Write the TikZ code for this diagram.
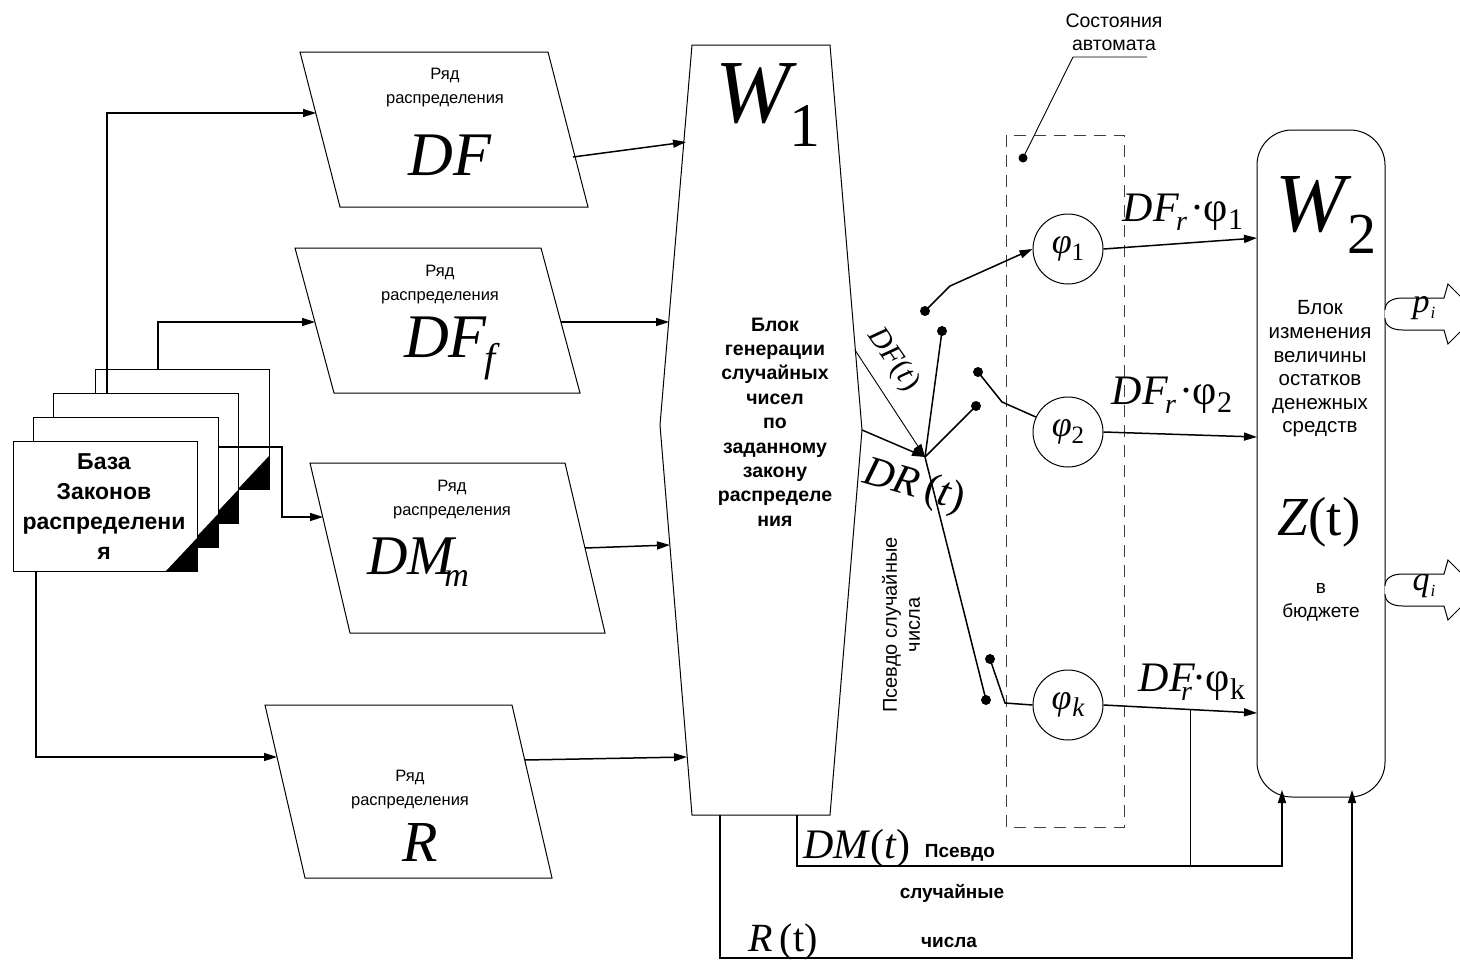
\documentclass[tikz,border=0pt]{standalone}
\usepackage{fontspec}
\setmainfont{Liberation Sans}
\newfontfamily\tms{Liberation Serif}
\usetikzlibrary{arrows.meta}
\newcommand{\fsz}[2]{\fontsize{#1}{#2}\selectfont}
\begin{document}
\begin{tikzpicture}[x=1pt,y=-1pt,
  shp/.style={line width=1pt, fill=white},
  con/.style={line width=1.5pt},
  thn/.style={line width=0.9pt},
  arr/.style={line width=1.5pt,-{Triangle[length=13pt,width=8pt]}},
  tarr/.style={line width=0.9pt,-{Triangle[length=13pt,width=8pt]}},
  dot/.style={circle, fill=black, inner sep=0pt, minimum size=10pt},
  circ/.style={circle, draw, line width=1pt, minimum size=70pt, inner sep=0pt},
  lbl/.style={font=\fsz{16.5}{24}, align=center, inner sep=0pt},
  bold/.style={font=\bfseries\fsz{19.5}{24.4}, align=center, inner sep=0pt},
  bigm/.style={font=\tms\itshape\fsz{62}{62}, inner sep=0pt},
  midm/.style={font=\tms\itshape\fsz{40}{40}, inner sep=0pt}]
\useasboundingbox (0,0) rectangle (1460,969);

% ---------- stacked documents ----------
\foreach \xa/\ya/\xb/\yb/\nm in {95/369/269/489/d4, 53/393/238/523/d3, 33/417/218/547/d2, 13/441/197/571/d1}{
  \draw[shp] (\xa,\ya) rectangle (\xb,\yb);
  \fill (\xb-31,\yb) -- (\xb,\yb) -- (\xb,\yb-33) -- cycle;
  \coordinate (\nm) at (\xa,\ya);
}
\node[font=\bfseries\fsz{23}{30}, align=center, inner sep=0pt] (base) at (104,507) {База\\Законов\\распределени\\я};
\coordinate (d3top) at (107,393);
\coordinate (d4top) at (158,369);
\coordinate (d2rt) at (218,447);
\coordinate (d1bot) at (36,571);

% ---------- parallelograms ----------
\draw[shp] (300,52) -- (548,52) -- (588,207) -- (340,207) -- cycle;
\node[lbl] (dfT) at (445,88) {Ряд\\распределения};
\node[bigm] (dfM) at (450,155) {DF};
\coordinate (dfIn) at (316,113);
\coordinate (dfOut) at (573,157);

\draw[shp] (295,248) -- (541,248) -- (580,393) -- (334,393) -- cycle;
\node[lbl] (dffT) at (440,285) {Ряд\\распределения};
\node[bigm] (dffM) at (450,348) {DF\kern-2pt\raisebox{-14pt}{\fsz{40}{40}f}};
\coordinate (dffIn) at (315,322);
\coordinate (dffOut) at (561,322);

\draw[shp] (310,463) -- (565,463) -- (605,633) -- (350,633) -- cycle;
\node[lbl] (dmT) at (452,500) {Ряд\\распределения};
\node[bigm, font=\tms\itshape\fsz{56}{56}] (dmM) at (418,562) {DM\kern-10pt\raisebox{-12pt}{\fsz{34}{34}m}};
\coordinate (dmIn) at (323,517);
\coordinate (dmOut) at (585,548);

\draw[shp] (265,705) -- (512,705) -- (552,878) -- (305,878) -- cycle;
\node[lbl] (rT) at (410,790) {Ряд\\распределения};
\node[bigm, font=\tms\itshape\fsz{58}{58}] (rM) at (420,843) {R};
\coordinate (rIn) at (277,757);
\coordinate (rOut) at (525,760);

% ---------- W1 block ----------
\draw[shp] (692,45) -- (830,45) -- (862,430) -- (830,815) -- (692,815) -- (660,425) -- cycle;
\node[inner sep=0pt] (w1lab) at (768,105) {\tms\itshape\fsz{90}{90}W\kern0pt\raisebox{-24pt}{\upshape\fsz{62}{62}1}};
\node[bold] (w1txt) at (775,422) {Блок\\генерации\\случайных\\чисел\\по\\заданному\\закону\\распределе\\ния};
\coordinate (w1a) at (686,142);
\coordinate (w1b) at (669,322);
\coordinate (w1c) at (670,545);
\coordinate (w1d) at (687,757);
\coordinate (w1e) at (855,350);
\coordinate (w1v) at (862,430);
\coordinate (w1b1) at (720,815);
\coordinate (w1b2) at (797,815);

% ---------- W2 block ----------
\draw[shp, rounded corners=35pt] (1257,130) rectangle (1385,797);
\node[inner sep=0pt] (w2lab) at (1326,215) {\tms\itshape\fsz{84}{84}W\kern2pt\raisebox{-22pt}{\upshape\fsz{58}{58}2}};
\node[lbl, font=\fsz{20.5}{23.6}] (w2txt) at (1320,369) {Блок\\изменения\\величины\\остатков\\денежных\\средств};
\node[inner sep=0pt] (zt) at (1319,522) {\tms\fsz{55}{55}\textit{Z}(t)};
\node[lbl, font=\fsz{19}{24}] (bud) at (1321,602) {в\\бюджете};
\coordinate (w2i1) at (1257,238);
\coordinate (w2i2) at (1257,437);
\coordinate (w2i3) at (1257,713);
\coordinate (w2b1) at (1282,790);
\coordinate (w2b2) at (1352,790);

% ---------- output block arrows ----------
\foreach \c/\nm in {314/pout, 590/qout}{
  \draw[shp] (1385,\c-4) .. controls (1385,\c-12) and (1392,\c-16) .. (1403,\c-16) -- (1444,\c-16) -- (1448,\c-30) -- (1478,\c) -- (1448,\c+30) -- (1444,\c+16) -- (1403,\c+16) .. controls (1392,\c+16) and (1385,\c+12) .. (1385,\c+4);
  \coordinate (\nm) at (1425,\c);
}
\node[inner sep=0pt] (plab) at (1424,308) {\tms\itshape\fsz{34}{34}p\kern1pt\raisebox{-6pt}{\fsz{17}{17}i}};
\node[inner sep=0pt] (qlab) at (1424,586) {\tms\itshape\fsz{34}{34}q\kern1pt\raisebox{-6pt}{\fsz{17}{17}i}};

% ---------- automaton states ----------
\draw[dashed, dash pattern=on 12pt off 8pt, line width=1pt, black!75] (1006,135) rectangle (1124,827);
\node[circ] (p1) at (1068,249) {\tms\itshape\fsz{36}{36}φ\raisebox{-7pt}{\upshape\fsz{25}{25}1}};
\node[circ] (p2) at (1068,432) {\tms\itshape\fsz{36}{36}φ\raisebox{-7pt}{\upshape\fsz{25}{25}2}};
\node[circ] (p3) at (1068,705) {\tms\itshape\fsz{36}{36}φ\kern1pt\raisebox{-7pt}{\fsz{27}{27}k}};

\node[lbl, font=\fsz{19.5}{23}] (stl) at (1114,32) {Состояния\\автомата};
\coordinate (stA) at (1073,57);
\coordinate (stB) at (1147,57);
\node[dot, minimum size=9pt] (stdot) at (1023,158) {};
\draw[thn] (stdot.center) -- (stA) -- (stB);

% ---------- switch ----------
\coordinate (hub) at (925,457);
\node[dot] (a1) at (942,331) {};
\node[dot] (a2) at (976,406) {};
\node[dot] (a3) at (986,700) {};
\node[dot] (c1) at (925,311) {};
\node[dot] (c2) at (978,372) {};
\node[dot] (c3) at (990,659) {};
\coordinate (k1) at (950,286);
\coordinate (k2) at (1002,402);
\coordinate (k3) at (1005,703);

% ---------- connectors ----------
\draw[arr] (d3top) -- (107,113) -- (dfIn);
\draw[arr] (d4top) -- (158,322) -- (dffIn);
\draw[arr] (d2rt) -- (282,447) -- (282,517) -- (dmIn);
\draw[arr] (d1bot) -- (36,757) -- (rIn);

\draw[arr] (dfOut) -- (w1a);
\draw[arr] (dffOut) -- (w1b);
\draw[arr] (dmOut) -- (w1c);
\draw[arr] (rOut) -- (w1d);

\draw[tarr] (w1e) -- (hub);
\draw[arr] (w1v) -- (hub);
\draw[con] (hub) -- (a1.center);
\draw[con] (hub) -- (a2.center);
\draw[con] (hub) -- (a3.center);

\draw[arr] (c1.center) -- (k1) -- (p1.west);
\draw[con] (c2.center) -- (k2) -- (p2.155);
\draw[con] (c3.center) -- (k3) -- (p3.west);

\draw[arr] (p1.east) -- (w2i1);
\draw[arr] (p2.east) -- (w2i2);
\draw[arr] (p3.east) -- (w2i3);

\draw[arr] (w1b1) -- (720,958) -- (1352,958) -- (w2b2);
\draw[arr] (w1b2) -- (797,866) -- (1282,866) -- (w2b1);
\coordinate (tap) at (1190,710);
\draw[thn] (tap) -- (1190,866);

% ---------- labels ----------
\node[inner sep=0pt] (l1) at (1183,212) {\tms\fsz{42}{42}\textit{DF}\kern-3pt\raisebox{-9pt}{\itshape\fsz{28}{28}r}\kern3pt·φ\raisebox{-8pt}{\fsz{30}{30}1}};
\node[inner sep=0pt] (l2) at (1172,395) {\tms\fsz{42}{42}\textit{DF}\kern-3pt\raisebox{-9pt}{\itshape\fsz{28}{28}r}\kern3pt·φ\raisebox{-8pt}{\fsz{30}{30}2}};
\node[inner sep=0pt] (l3) at (1192,682) {\tms\fsz{42}{42}\textit{DF}\kern-14pt\raisebox{-9pt}{\itshape\fsz{28}{28}r}\kern0pt·φ\raisebox{-8pt}{\fsz{30}{30}k}};

\node[inner sep=0pt, rotate=-55] (dft) at (893,360) {\tms\fsz{30}{30}\textit{DF}(\textit{t})};
\node[inner sep=0pt, rotate=-16] (drt) at (914,487) {\tms\fsz{42}{42}\textit{DR}\,(\textit{t})};
\node[lbl, rotate=90, font=\fsz{20}{23}] (pseudo) at (901,625) {Псевдо случайные\\числа};

\node[inner sep=0pt] (dmt) at (857,848) {\tms\fsz{42}{42}\textit{DM}(\textit{t})};
\node[inner sep=0pt] (rt) at (783,942) {\tms\fsz{40}{40}\textit{R}\,(t)};
\node[bold, font=\bfseries\fsz{19}{20}] (ps1) at (960,853) {Псевдо};
\node[bold, font=\bfseries\fsz{19}{20}] (ps2) at (952,893) {случайные};
\node[bold, font=\bfseries\fsz{19}{20}] (ps3) at (949,942) {числа};
\end{tikzpicture}
\end{document}
